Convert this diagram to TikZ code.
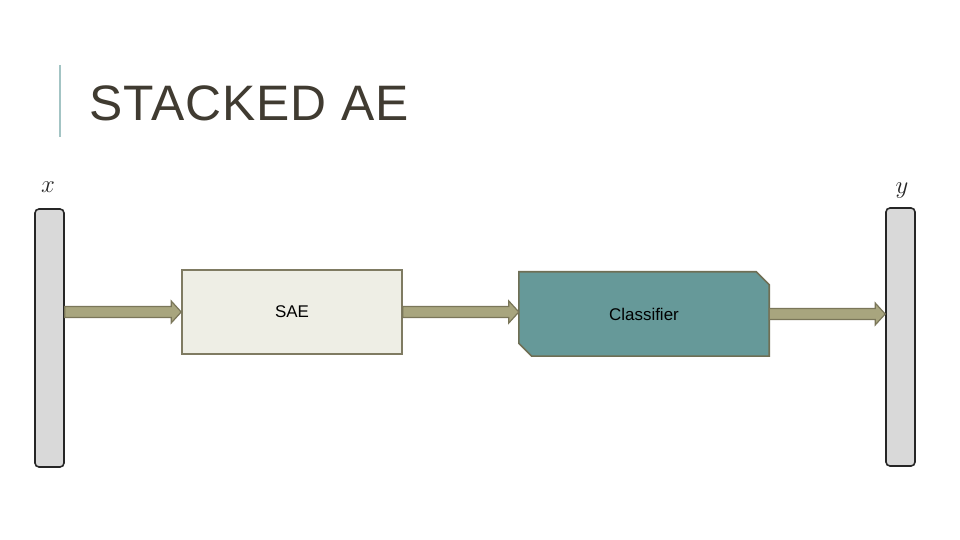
\documentclass[tikz,border=0pt]{standalone}
\usepackage{fontspec}
\setmainfont{Liberation Sans}
\usetikzlibrary{calc}
\definecolor{barfill}{HTML}{D9D9D9}
\definecolor{barline}{HTML}{262626}
\definecolor{arrfill}{HTML}{A8A57E}
\definecolor{arrline}{HTML}{7A7659}
\definecolor{saefill}{HTML}{EEEEE5}
\definecolor{saeline}{HTML}{7F7B62}
\definecolor{clsfill}{HTML}{669999}
\definecolor{clsline}{HTML}{6F6F55}
\definecolor{titlecol}{HTML}{403B31}
\definecolor{accent}{HTML}{A3C4C4}
\newcommand{\fatarrow}[2]{%
  \draw[arrowstyle] ($(#1)+(0,-5.5)$) -- ($(#2)+(-10,-5.5)$) -- ($(#2)+(-10,-11)$) -- (#2)
    -- ($(#2)+(-10,11)$) -- ($(#2)+(-10,5.5)$) -- ($(#1)+(0,5.5)$) -- cycle;}
\begin{document}
\begin{tikzpicture}[x=1bp,y=-1bp,
  barstyle/.style={draw=barline,fill=barfill,line width=1.6bp,rounded corners=4bp,minimum width=29bp,minimum height=258bp,inner sep=0pt},
  arrowstyle/.style={draw=arrline,fill=arrfill,line width=1.2bp,line join=miter},
  boxstyle/.style={draw=saeline,fill=saefill,line width=1.6bp,minimum width=220bp,minimum height=84bp,inner sep=0pt,font=\fontsize{17}{20}\selectfont},
  clsstyle/.style={minimum width=250bp,minimum height=84bp,inner sep=0pt,font=\fontsize{17}{20}\selectfont},
  mathlabel/.style={font=\fontsize{30}{32}\selectfont,inner sep=0pt,text=barline}]
\useasboundingbox (0,0) rectangle (960,540);
\fill[white] (0,0) rectangle (960,540);
% title
\draw[accent,line width=2.5bp] (60,65) -- (60,137);
\node[anchor=base west,inner sep=0pt,text=titlecol,font=\fontsize{50}{60}\selectfont] (title) at (89,121) {\addfontfeature{LetterSpace=2}STACKED AE};
% bars
\node[barstyle] (L) at (49.5,338) {};
\node[barstyle] (R) at (900.5,337) {};
\node[mathlabel,anchor=base] (xl) at (48,193) {$x$};
\node[mathlabel,anchor=base] (yl) at (902,194) {$y$};
% boxes
\node[boxstyle] (SAE) at (292,312) {SAE};
\node[clsstyle] (Cls) at (644,314) {};
\draw[draw=clsline,fill=clsfill,line width=1.6bp]
  (Cls.north west) -- ($(Cls.north east)+(-13,0)$) -- ($(Cls.north east)+(0,13)$)
  -- (Cls.south east) -- ($(Cls.south west)+(13,0)$) -- ($(Cls.south west)+(0,-13)$) -- cycle;
\node[font=\fontsize{17}{20}\selectfont] at (Cls.center) {Classifier};
% arrows
\fatarrow{L.east |- SAE.west}{SAE.west}
\fatarrow{SAE.east}{Cls.west |- SAE.east}
\fatarrow{Cls.east}{R.west |- Cls.east}
\end{tikzpicture}
\end{document}
